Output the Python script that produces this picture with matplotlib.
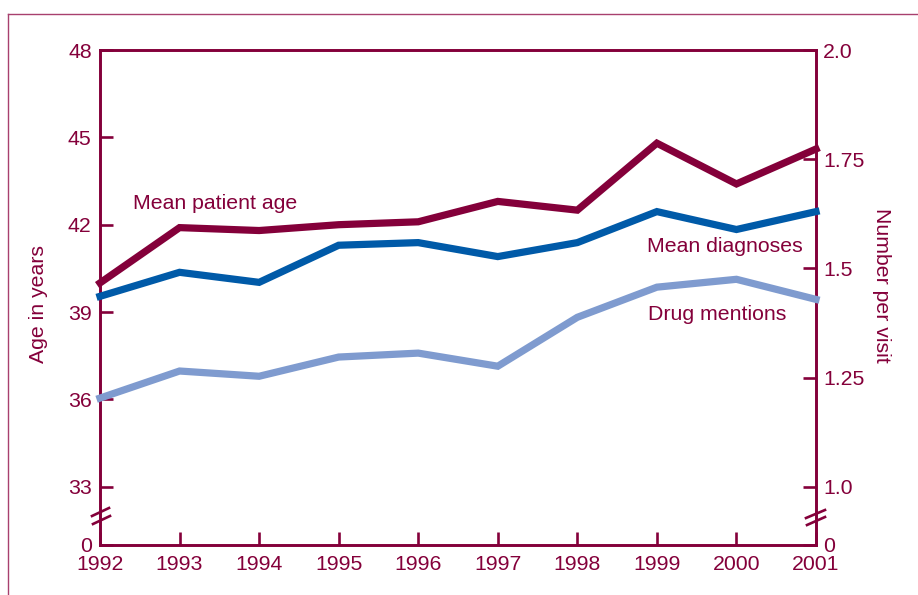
import matplotlib
matplotlib.use("Agg")
import matplotlib.pyplot as plt
from matplotlib.lines import Line2D

plt.rcParams['font.family'] = ['Liberation Sans', 'DejaVu Sans']

years = [1992, 1993, 1994, 1995, 1996, 1997, 1998, 1999, 2000, 2001]
mean_age = [40.0, 41.9, 41.8, 42.0, 42.1, 42.8, 42.5, 44.8, 43.4, 44.6]
mean_diag = [1.436, 1.491, 1.468, 1.553, 1.559, 1.527, 1.559, 1.630, 1.589, 1.630]
drug_ment = [1.203, 1.265, 1.253, 1.297, 1.306, 1.276, 1.388, 1.457, 1.475, 1.429]

left_ticks = [31, 33, 36, 39, 42, 45, 48]
left_labels = ['0', '33', '36', '39', '42', '45', '48']
right_ticks = [1 + (31 - 33) / 15, 1.0, 1.25, 1.5, 1.75, 2.0]
right_labels = ['0', '1.0', '1.25', '1.5', '1.75', '2.0']

MAROON = '#84003a'
BLUE = '#005aa8'
LIGHT = '#7f9bcf'

W, H = 918, 595
fig = plt.figure(figsize=(W / 100, H / 100), dpi=100)

def fx(x):
    return x / W

def fy(y):
    return 1 - y / H

ax = fig.add_axes([fx(100), fy(545), fx(816) - fx(100), fy(50) - fy(545)])
ax2 = ax.twinx()

ax.set_xlim(1992, 2001)
ax.set_ylim(31, 48)
ax2.set_ylim(right_ticks[0], 2.0)

ax.plot(years, mean_age, color=MAROON, lw=5.2, clip_on=False, zorder=5, solid_joinstyle='miter')
ax2.plot(years, mean_diag, color=BLUE, lw=5.2, clip_on=False, zorder=4, solid_joinstyle='miter')
ax2.plot(years, drug_ment, color=LIGHT, lw=5.2, clip_on=False, zorder=3, solid_joinstyle='miter')

fs = 15.3
for a in (ax, ax2):
    for s in a.spines.values():
        s.set_color(MAROON)
        s.set_linewidth(1.9)

ax.set_yticks(left_ticks)
ax.set_yticklabels(left_labels)
ax2.set_yticks(right_ticks)
ax2.set_yticklabels(right_labels)
ax.set_xticks(years)
ax.set_xticklabels([str(y) for y in years])

ax.tick_params(axis='both', direction='in', length=9.5, width=1.9, color=MAROON,
               labelcolor=MAROON, labelsize=fs, pad=6)
ax.tick_params(axis='x', pad=7)
ax2.tick_params(axis='y', direction='in', length=9.5, width=1.9, color=MAROON,
                labelcolor=MAROON, labelsize=fs, pad=5)

ax.set_ylabel('Age in years', color=MAROON, fontsize=fs)
ax.yaxis.set_label_coords((48 - 100) / 716, (545 - 304) / 495)
ax2.set_ylabel('Number per visit', color=MAROON, fontsize=fs, rotation=270)
ax2.yaxis.set_label_coords((891 - 100) / 716, (545 - 285) / 495)

ax.text(1992.415, 42.72, 'Mean patient age', color=MAROON, fontsize=fs, va='center', ha='left')
ax.text(1998.875, 41.25, 'Mean diagnoses', color=MAROON, fontsize=fs, va='center', ha='left')
ax.text(1998.89, 38.92, 'Drug mentions', color=MAROON, fontsize=fs, va='center', ha='left')

# axis break marks
for (x1, y1, x2, y2) in [(92, 516, 109, 508), (93, 524, 110, 516),
                         (806, 518, 825, 510), (807, 525, 825, 517)]:
    fig.add_artist(Line2D([fx(x1), fx(x2)], [fy(y1), fy(y2)], color=MAROON, lw=1.9,
                          transform=fig.transFigure, zorder=10))

# frame lines
fig.add_artist(Line2D([fx(8), fx(918)], [fy(14), fy(14)], color='#a8406e', lw=1.0,
                      transform=fig.transFigure))
fig.add_artist(Line2D([fx(8), fx(8)], [fy(14), fy(595)], color='#a8406e', lw=1.0,
                      transform=fig.transFigure))

fig.savefig('out.png', dpi=100)
